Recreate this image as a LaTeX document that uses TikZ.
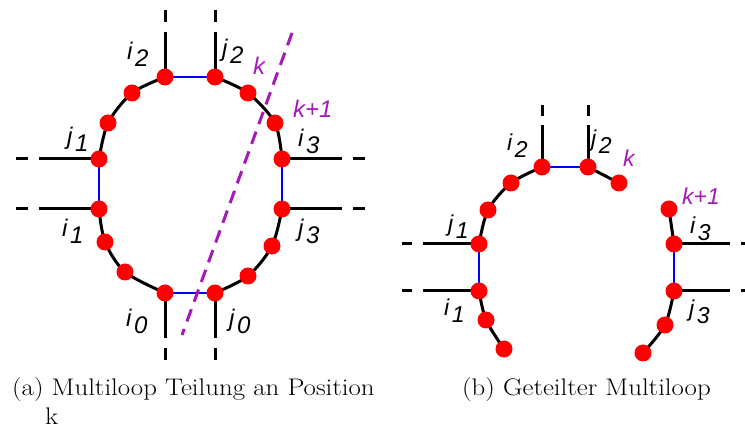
\documentclass[tikz,border=0pt]{standalone}
\usepackage{fontspec}
\newfontfamily\labfont{Liberation Sans}
\definecolor{cutpurple}{RGB}{165,25,185}
\definecolor{dotred}{RGB}{255,0,0}
\definecolor{bondblue}{RGB}{0,0,255}
\newcommand\ixlab[2]{#1\hspace{2.5pt}\raisebox{-6.5pt}{#2}}
\begin{document}
\begin{tikzpicture}[x=1pt,y=-1pt,
  loopline/.style={line width=3pt, black},
  bond/.style={bondblue, line width=1.5pt},
  dot/.style={circle, fill=dotred, inner sep=0pt, minimum size=17pt},
  stubh/.style={line width=3pt, dash pattern=on 60pt off 11pt on 12pt off 300pt},
  stubv/.style={line width=3pt, dash pattern=on 45pt off 10pt on 12pt off 300pt},
  stubhr/.style={line width=3pt, dash pattern=on 56pt off 11pt on 10pt off 300pt},
  stubvr/.style={line width=3pt, dash pattern=on 42pt off 9pt on 11pt off 300pt},
  cutline/.style={cutpurple, line width=3pt, dash pattern=on 13pt off 8pt},
  lab/.style={font=\labfont\itshape\fontsize{24}{28}\selectfont, inner sep=0pt, anchor=base west},
  labr/.style={font=\labfont\itshape\fontsize{23}{27}\selectfont, inner sep=0pt, anchor=base west},
  captext/.style={font=\fontsize{24}{28}\selectfont, inner sep=0pt, anchor=base west}]
\useasboundingbox (0,0) rectangle (745,430);
% ---------- left diagram coordinates
\coordinate (Li2) at (165,77);
\coordinate (Lj2) at (215,77);
\coordinate (Lj1) at (99,159);
\coordinate (Li1) at (99,209);
\coordinate (Li3) at (282,159);
\coordinate (Lj3) at (282,209);
\coordinate (Li0) at (165,293);
\coordinate (Lj0) at (215,293);
\coordinate (La1) at (132,93);
\coordinate (La2) at (108,123);
\coordinate (Lb1) at (248,93);
\coordinate (Lb2) at (275,123);
\coordinate (Lc1) at (105,242);
\coordinate (Lc2) at (125,272);
\coordinate (Ld1) at (248,276);
\coordinate (Ld2) at (272,246);
% stub ends
\coordinate (ELi2) at (165,10);
\coordinate (ELj2) at (215,10);
\coordinate (ELj1) at (15,159);
\coordinate (ELi1) at (15,209);
\coordinate (ELi3) at (365,159);
\coordinate (ELj3) at (365,209);
\coordinate (ELi0) at (165,360);
\coordinate (ELj0) at (215,360);
\coordinate (cutA) at (292,33);
\coordinate (cutB) at (182,335);
% ---------- right diagram coordinates
\coordinate (Ri2) at (542,167);
\coordinate (Rj2) at (588,167);
\coordinate (Rk) at (619,183);
\coordinate (Ra1) at (511,183);
\coordinate (Ra2) at (488,210);
\coordinate (Rj1) at (479,244);
\coordinate (Ri1) at (479,291);
\coordinate (Rc1) at (486,320);
\coordinate (Rc2) at (504,349);
\coordinate (Rk1) at (669,209);
\coordinate (Ri3) at (674,244);
\coordinate (Rj3) at (674,291);
\coordinate (Re1) at (665,325);
\coordinate (Re2) at (643,353);
\coordinate (ERi2) at (542,105);
\coordinate (ERj2) at (588,103);
\coordinate (ERj1) at (402,244);
\coordinate (ERi1) at (402,291);
\coordinate (ERi3) at (752,244);
\coordinate (ERj3) at (752,291);
% ---------- left: loop
\draw[loopline] plot[smooth] coordinates {(Lj1) (La2) (La1) (Li2)};
\draw[loopline] plot[smooth] coordinates {(Lj2) (Lb1) (Lb2) (Li3)};
\draw[loopline] plot[smooth] coordinates {(Li1) (Lc1) (Lc2) (Li0)};
\draw[loopline] plot[smooth] coordinates {(Lj0) (Ld1) (Ld2) (Lj3)};
\draw[bond] (Li2) -- (Lj2);
\draw[bond] (Lj1) -- (Li1);
\draw[bond] (Li3) -- (Lj3);
\draw[bond] (Li0) -- (Lj0);
\draw[stubv] (Li2) -- (ELi2);
\draw[stubv] (Lj2) -- (ELj2);
\draw[stubv] (Li0) -- (ELi0);
\draw[stubv] (Lj0) -- (ELj0);
\draw[stubh] (Lj1) -- (ELj1);
\draw[stubh] (Li1) -- (ELi1);
\draw[stubh] (Li3) -- (ELi3);
\draw[stubh] (Lj3) -- (ELj3);
\draw[cutline] (cutA) -- (cutB);
\foreach \p in {Li2,Lj2,Lj1,Li1,Li3,Lj3,Li0,Lj0,La1,La2,Lb1,Lb2,Lc1,Lc2,Ld1,Ld2}
  \node[dot] (d\p) at (\p) {};
% ---------- right: split loop
\draw[loopline] (Rj2) -- (Rk);
\draw[loopline] plot[smooth] coordinates {(Ri2) (Ra1) (Ra2) (Rj1)};
\draw[loopline] plot[smooth] coordinates {(Ri1) (Rc1) (Rc2)};
\draw[loopline] (Rk1) -- (Ri3);
\draw[loopline] plot[smooth] coordinates {(Rj3) (Re1) (Re2)};
\draw[bond] (Ri2) -- (Rj2);
\draw[bond] (Rj1) -- (Ri1);
\draw[bond] (Ri3) -- (Rj3);
\draw[stubvr] (Ri2) -- (ERi2);
\draw[stubvr] (Rj2) -- (ERj2);
\draw[stubhr] (Rj1) -- (ERj1);
\draw[stubhr] (Ri1) -- (ERi1);
\draw[stubhr] (Ri3) -- (ERi3);
\draw[stubhr] (Rj3) -- (ERj3);
\foreach \p in {Ri2,Rj2,Rk,Ra1,Ra2,Rj1,Ri1,Rc1,Rc2,Rk1,Ri3,Rj3,Re1,Re2}
  \node[dot] (d\p) at (\p) {};
% ---------- labels left
\node[lab] (tLi2) at (127,60) {\ixlab{i}{2}};
\node[lab] (tLj2) at (222,57) {\ixlab{j}{2}};
\node[lab, cutpurple] (tLk) at (253,75) {k};
\node[lab, cutpurple] (tLk1) at (293,118) {k+1};
\node[lab] (tLj1) at (67,145) {\ixlab{j}{1}};
\node[lab] (tLi3) at (298,147) {\ixlab{i}{3}};
\node[lab] (tLi1) at (62,237) {\ixlab{i}{1}};
\node[lab] (tLj3) at (298,237) {\ixlab{j}{3}};
\node[lab] (tLi0) at (126,327) {\ixlab{i}{0}};
\node[lab] (tLj0) at (229,327) {\ixlab{j}{0}};
% ---------- labels right
\node[labr] (tRi2) at (507,151) {\ixlab{i}{2}};
\node[labr] (tRj2) at (591,147) {\ixlab{j}{2}};
\node[labr, cutpurple] (tRk) at (623,167) {k};
\node[labr, cutpurple] (tRk1) at (682,205) {k+1};
\node[labr] (tRj1) at (448,232) {\ixlab{j}{1}};
\node[labr] (tRi3) at (690,234) {\ixlab{i}{3}};
\node[labr] (tRi1) at (444,316) {\ixlab{i}{1}};
\node[labr] (tRj3) at (689,317) {\ixlab{j}{3}};
% ---------- captions
\node[captext] (capa) at (12,396) {\scalebox{1.12}[1]{(a) Multiloop Teilung an Position}};
\node[captext] (capak) at (45,425) {\scalebox{1.12}[1]{k}};
\node[captext] (capb) at (462,396) {\scalebox{1.12}[1]{(b) Geteilter Multiloop}};
\end{tikzpicture}
\end{document}
